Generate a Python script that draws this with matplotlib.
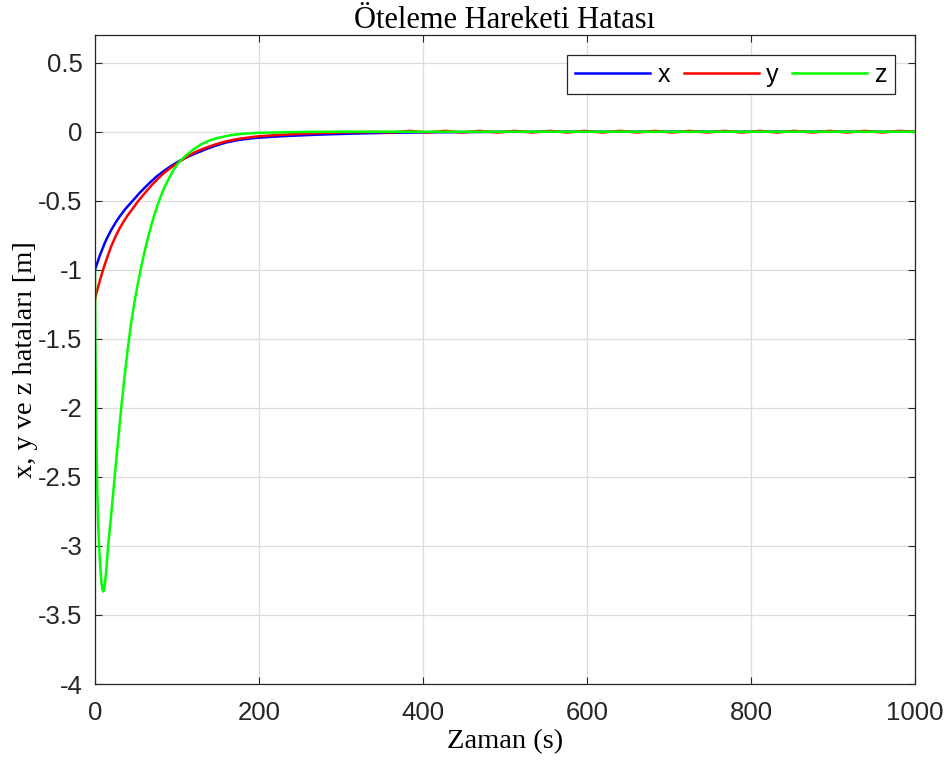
import matplotlib
matplotlib.use("Agg")
from matplotlib import pyplot as plt
from matplotlib.ticker import FuncFormatter

# values
t_x = [0, 2, 4, 6, 9, 12, 16, 20, 25, 30, 37, 46, 55, 65, 75, 85, 95, 105,
       115, 125, 136, 148, 160, 175, 190, 200, 225, 246, 270, 290, 327,
       360, 400, 450, 500, 600, 700, 800, 900, 1000]
err_x = [-1.0, -0.965, -0.93, -0.895, -0.85, -0.805, -0.755, -0.71, -0.66,
         -0.615, -0.56, -0.50, -0.44, -0.38, -0.325, -0.28, -0.24, -0.205,
         -0.177, -0.152, -0.125, -0.1, -0.078, -0.06, -0.049, -0.043,
         -0.034, -0.028, -0.022, -0.018, -0.012, -0.008, -0.005, -0.003,
         -0.001, 0.0, 0.0, 0.0, 0.0, 0.0]

t_y = [0, 2, 4, 6, 8, 10, 13, 16, 20, 25, 30, 35, 40, 45, 53, 60, 68, 76,
       85, 95, 105, 115, 125, 136, 148, 160, 175, 190, 200, 225, 246, 275,
       307, 340,
       362, 384, 405, 427, 448, 469, 491, 512, 533, 555, 576, 597, 619,
       640, 661, 683, 704, 725, 747, 768, 789, 811, 832, 853, 875, 896,
       917, 939, 960, 981, 1000]
err_y = [-1.215, -1.165, -1.12, -1.077, -1.037, -0.998, -0.944, -0.892,
         -0.827, -0.76, -0.70, -0.65, -0.605, -0.565, -0.5, -0.45, -0.395,
         -0.345, -0.295, -0.25, -0.21, -0.17, -0.14, -0.115, -0.09, -0.07,
         -0.052, -0.04, -0.033, -0.023, -0.017, -0.01, -0.005, -0.002,
         -0.006, 0.006, -0.006, 0.006, -0.006, 0.006, -0.006, 0.006, -0.006,
         0.006, -0.006, 0.006, -0.006, 0.006, -0.006, 0.006, -0.006, 0.006,
         -0.006, 0.006, -0.006, 0.006, -0.006, 0.006, -0.006, 0.006, -0.006,
         0.006, -0.006, 0.006, 0.0]

t_z = [0, 0.5, 1, 1.5, 2, 2.5, 3, 4, 5, 6, 7, 8, 9, 10, 11, 12, 14, 16,
       18, 20, 24, 28, 32, 36, 40, 44, 48, 52, 56, 60, 65, 70, 75, 80, 85,
       90, 95, 100, 105, 110, 120, 130, 140, 150, 165, 180, 200, 250, 300,
       400, 500, 600, 700, 800, 900, 1000]
err_z = [-1.0, -1.5, -1.8, -2.08, -2.32, -2.5, -2.64, -2.86, -3.0, -3.11,
         -3.2, -3.27, -3.31, -3.33, -3.32, -3.28, -3.16, -3.0, -2.88, -2.76,
         -2.5, -2.25, -2.0, -1.78, -1.57, -1.39, -1.24, -1.11, -0.99, -0.88,
         -0.76, -0.65, -0.555, -0.47, -0.40, -0.34, -0.285, -0.24, -0.205,
         -0.178, -0.128, -0.09, -0.063, -0.045, -0.026, -0.015, -0.008,
         -0.002, 0.0, 0.0, 0.0, 0.0, 0.0, 0.0, 0.0, 0.0]

x_ticks = [0, 200, 400, 600, 800, 1000]
y_ticks = [-4, -3.5, -3, -2.5, -2, -1.5, -1, -0.5, 0, 0.5]

serif = "Liberation Serif"
sans = "Liberation Sans"

fig = plt.figure(figsize=(9.47, 7.63), dpi=100)
ax = fig.add_axes([0.1003, 0.1035, 0.8659, 0.8506])

ax.plot(t_x, err_x, color=(0, 0, 1), lw=1.8, label="x")
ax.plot(t_y, err_y, color=(1, 0, 0), lw=1.8, label="y")
ax.plot(t_z, err_z, color=(0, 1, 0), lw=1.8, label="z")

ax.set_xlim(0, 1000)
ax.set_ylim(-4, 0.7)
ax.set_xticks(x_ticks)
ax.set_yticks(y_ticks)
ax.yaxis.set_major_formatter(FuncFormatter(lambda v, p: f"{v:g}"))
ax.xaxis.set_major_formatter(FuncFormatter(lambda v, p: f"{v:g}"))
ax.grid(True, color="#dcdcdc", lw=0.9)
ax.set_axisbelow(True)
ax.tick_params(direction="in", length=5, width=0.8, top=True, right=True,
               labelsize=18.5, colors="#262626")
ax.tick_params(axis="x", pad=12)
ax.tick_params(axis="y", pad=9)
for lab in ax.get_xticklabels() + ax.get_yticklabels():
    lab.set_fontfamily(sans)
for sp in ax.spines.values():
    sp.set_color("#262626")
    sp.set_linewidth(0.9)

ax.set_title("Öteleme Hareketi Hatası", fontfamily=serif, fontsize=22, pad=5)
ax.set_xlabel("Zaman (s)", fontfamily=serif, fontsize=20.5, labelpad=3)
ax.set_ylabel("x, y ve z hataları [m]", fontfamily=serif, fontsize=20.5,
              labelpad=0)

leg = ax.legend(loc="upper right", ncol=3, bbox_to_anchor=(0.9756, 0.9692),
                borderaxespad=0, prop={"family": sans, "size": 18},
                fancybox=False, edgecolor="#262626", handlelength=3.0,
                columnspacing=0.55, handletextpad=0.3, borderpad=0.3,
                framealpha=1)
leg.get_frame().set_linewidth(0.9)

fig.savefig("out.png", dpi=100)
